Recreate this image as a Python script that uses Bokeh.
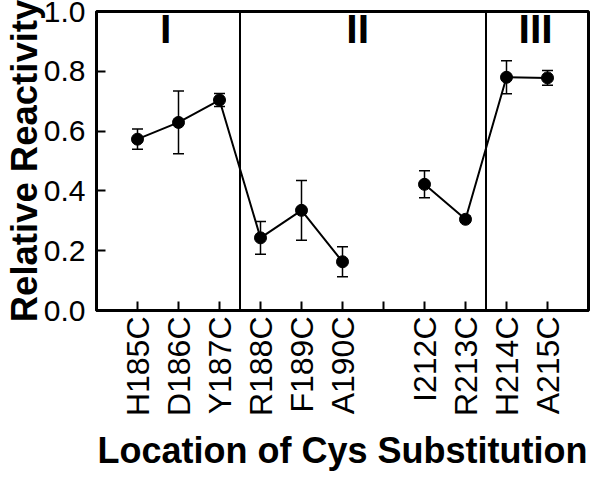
import math
from bokeh.plotting import figure
from bokeh.models import ColumnDataSource, Whisker, TeeHead, Span, FixedTicker, Range1d
from bokeh.core.properties import value
from bokeh.embed import file_html
from bokeh.resources import INLINE

# ---- data ----
mutants = ["H185C", "D186C", "Y187C", "R188C", "F189C", "A190C",
           "I212C", "R213C", "H214C", "A215C"]
positions = [0, 1, 2, 3, 4, 5, 7, 8, 9, 10]
reactivity = [0.573, 0.629, 0.704, 0.243, 0.335, 0.163, 0.422, 0.305, 0.78, 0.778]
error = [0.034, 0.105, 0.022, 0.055, 0.10, 0.05, 0.045, 0.01, 0.055, 0.025]
segment_1 = slice(0, 6)   # H185C ... A190C connected
segment_2 = slice(6, 10)  # I212C ... A215C connected
region_bounds = [-1, 2.5, 8.5, 11]
region_names = ["I", "II", "III"]
region_label_x = [0.69, 5.37, 9.71]
region_label_y = 0.94
y_ticks = [0.0, 0.2, 0.4, 0.6, 0.8, 1.0]
x_ticks = list(range(0, 11))

FONT = "Liberation Sans"

src = ColumnDataSource(dict(
    x=positions, y=reactivity,
    upper=[v + e for v, e in zip(reactivity, error)],
    lower=[v - e for v, e in zip(reactivity, error)],
))

p = figure(width=590, height=474,
           x_range=Range1d(region_bounds[0], region_bounds[-1]),
           y_range=Range1d(0, 1.0),
           output_backend="svg", toolbar_location=None,
           min_border_left=96, min_border_right=2,
           min_border_top=11, min_border_bottom=160)

p.xgrid.visible = False
p.ygrid.visible = False
p.outline_line_color = "black"
p.outline_line_width = 3
p.outline_line_alpha = 1.0
p.background_fill_color = "white"
p.border_fill_color = "white"

# axes
labels = {t: "" for t in x_ticks}
for pos, name in zip(positions, mutants):
    labels[pos] = name
p.xaxis.ticker = FixedTicker(ticks=x_ticks)
p.xaxis.major_label_overrides = labels
p.xaxis.major_label_orientation = math.pi / 2
p.yaxis.ticker = FixedTicker(ticks=y_ticks)
p.yaxis.major_label_overrides = {t: f"{t:.1f}" for t in y_ticks}

for ax in (p.xaxis[0], p.yaxis[0]):
    ax.axis_line_width = 3
    ax.axis_line_color = "black"
    ax.major_tick_in = 9
    ax.major_tick_out = 0
    ax.major_tick_line_width = 2
    ax.major_tick_line_color = "black"
    ax.minor_tick_line_color = None
    ax.major_label_text_font = FONT
    ax.major_label_text_color = "black"
    ax.axis_label_text_font = FONT
    ax.axis_label_text_font_style = "bold"
    ax.axis_label_text_color = "black"

p.xaxis.major_label_text_font_size = "32px"
p.xaxis.major_label_standoff = 6
p.xaxis.axis_label = "Location of Cys Substitution"
p.xaxis.axis_label_text_font_size = "36px"
p.xaxis.axis_label_standoff = 11

p.yaxis.major_label_text_font_size = "30px"
p.yaxis.major_label_standoff = 11
p.yaxis.axis_label = "Relative Reactivity"
p.yaxis.axis_label_text_font_size = "36.5px"
p.yaxis.axis_label_standoff = -4

# region dividers
for b in region_bounds[1:-1]:
    p.add_layout(Span(location=b, dimension="height", line_color="black", line_width=2))

# region labels
p.text(x=region_label_x, y=[region_label_y] * len(region_names), text=region_names,
       text_font=value(FONT), text_font_size="41px", text_font_style="bold",
       text_align="center", text_baseline="middle", text_color="black")

# lines
p.line(positions[segment_1], reactivity[segment_1], line_color="black", line_width=2)
p.line(positions[segment_2], reactivity[segment_2], line_color="black", line_width=2)

# error bars
w = Whisker(source=src, base="x", upper="upper", lower="lower",
            line_color="black", line_width=1.5,
            upper_head=TeeHead(size=11, line_color="black", line_width=1.5),
            lower_head=TeeHead(size=11, line_color="black", line_width=1.5))
p.add_layout(w)

# markers
p.scatter("x", "y", source=src, size=12, fill_color="black", line_color="black")

open("out.html", "w").write(file_html(p, INLINE))
